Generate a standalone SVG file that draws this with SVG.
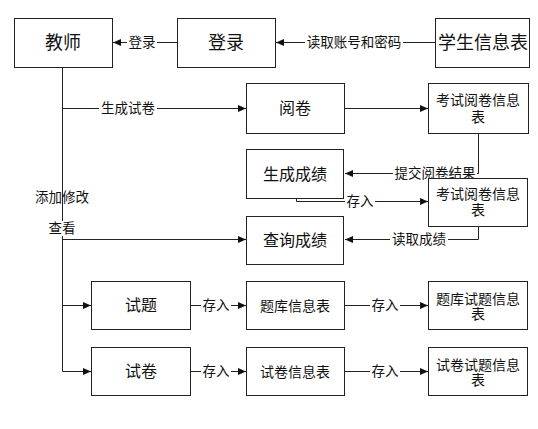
<svg xmlns="http://www.w3.org/2000/svg" width="538" height="429" viewBox="0 0 538 429">
<defs>
<marker id="arr" markerUnits="userSpaceOnUse" markerWidth="9" markerHeight="8" refX="8" refY="3.5" orient="auto">
<path d="M0,0 L8,3.5 L0,7 z" fill="#111"/>
</marker>
<style>
.box{fill:#fff;stroke:#222;stroke-width:1}
.t{font-family:"Liberation Sans","Noto Sans CJK SC",sans-serif;fill:#111;text-anchor:middle;dominant-baseline:central}
.big{font-size:18px}
.mid{font-size:16px}
.sm{font-size:14px}
.lbl{font-family:"Liberation Sans","Noto Sans CJK SC",sans-serif;fill:#111;text-anchor:middle;dominant-baseline:central;font-size:13.5px}
.ln{fill:none;stroke:#222;stroke-width:1}
.a{marker-end:url(#arr)}
.bg{fill:#fff}
</style>
</defs>
<rect width="538" height="429" fill="#fff"/>
<g id="connectors">
<line class="ln a" x1="435" y1="42.5" x2="276" y2="42.5"/>
<line class="ln a" x1="177" y1="42.5" x2="113" y2="42.5"/>
<line class="ln" x1="62.5" y1="67" x2="62.5" y2="371.5"/>
<line class="ln a" x1="62.5" y1="108.5" x2="246" y2="108.5"/>
<line class="ln a" x1="344" y1="108.5" x2="428" y2="108.5"/>
<polyline class="ln a" points="478.5,133 478.5,173.5 345,173.5"/>
<polyline class="ln a" points="296.5,198 296.5,201.5 428,201.5"/>
<polyline class="ln a" points="478.5,226 478.5,239.5 345,239.5"/>
<line class="ln a" x1="62.5" y1="239.5" x2="246" y2="239.5"/>
<line class="ln a" x1="62.5" y1="305.5" x2="91" y2="305.5"/>
<line class="ln a" x1="62.5" y1="371.5" x2="91" y2="371.5"/>
<line class="ln a" x1="190" y1="305.5" x2="246" y2="305.5"/>
<line class="ln a" x1="344" y1="305.5" x2="428" y2="305.5"/>
<line class="ln a" x1="190" y1="371.5" x2="246" y2="371.5"/>
<line class="ln a" x1="344" y1="371.5" x2="428" y2="371.5"/>
<rect class="bg" x="305" y="35" width="98" height="15"/>
<text class="lbl" x="354" y="42.5">读取账号和密码</text>
<rect class="bg" x="127" y="35" width="30" height="15"/>
<text class="lbl" x="142" y="42.5">登录</text>
<rect class="bg" x="99" y="101" width="58" height="15"/>
<text class="lbl" x="128" y="108.5">生成试卷</text>
<rect class="bg" x="393" y="166" width="84" height="15"/>
<text class="lbl" x="435" y="173.5">提交阅卷结果</text>
<rect class="bg" x="345" y="194" width="30" height="15"/>
<text class="lbl" x="360" y="201.5">存入</text>
<rect class="bg" x="390" y="232" width="58" height="15"/>
<text class="lbl" x="419" y="239.5">读取成绩</text>
<text class="lbl" x="62" y="197">添加修改</text>
<rect class="bg" x="47" y="221" width="30" height="15"/>
<text class="lbl" x="62" y="228.5">查看</text>
<rect class="bg" x="201" y="298" width="30" height="15"/>
<text class="lbl" x="216" y="305.5">存入</text>
<rect class="bg" x="370" y="298" width="30" height="15"/>
<text class="lbl" x="385" y="305.5">存入</text>
<rect class="bg" x="201" y="364" width="30" height="15"/>
<text class="lbl" x="216" y="371.5">存入</text>
<rect class="bg" x="370" y="364" width="30" height="15"/>
<text class="lbl" x="385" y="371.5">存入</text>
</g>
<g id="teacher"><rect class="box" x="14.5" y="18.5" width="98" height="49"/><text class="t big" x="63" y="43">教师</text></g>
<g id="login"><rect class="box" x="177.5" y="18.5" width="98" height="49"/><text class="t big" x="226" y="43">登录</text></g>
<g id="student"><rect class="box" x="435.5" y="18.5" width="94" height="49"/><text class="t big" x="483" y="43">学生信息表</text></g>
<g id="grade-paper"><rect class="box" x="246.5" y="83.5" width="98" height="50"/><text class="t mid" x="295" y="108.5">阅卷</text></g>
<g id="exam-info-1"><rect class="box" x="428.5" y="83.5" width="100" height="50"/><text class="t sm" x="478" y="100">考试阅卷信息</text><text class="t sm" x="478" y="117">表</text></g>
<g id="gen-score"><rect class="box" x="246.5" y="149.5" width="97" height="49"/><text class="t mid" x="295" y="174">生成成绩</text></g>
<g id="exam-info-2"><rect class="box" x="428.5" y="178.5" width="99" height="48"/><text class="t sm" x="478" y="194">考试阅卷信息</text><text class="t sm" x="478" y="210">表</text></g>
<g id="query-score"><rect class="box" x="246.5" y="216.5" width="97" height="48"/><text class="t mid" x="295" y="240.5">查询成绩</text></g>
<g id="question"><rect class="box" x="91.5" y="281.5" width="99" height="48"/><text class="t mid" x="141" y="305.5">试题</text></g>
<g id="bank-info"><rect class="box" x="246.5" y="281.5" width="98" height="48"/><text class="t sm" x="295" y="305.5">题库信息表</text></g>
<g id="bank-question-info"><rect class="box" x="428.5" y="281.5" width="99" height="48"/><text class="t sm" x="478" y="298.5">题库试题信息</text><text class="t sm" x="478" y="314">表</text></g>
<g id="paper"><rect class="box" x="91.5" y="347.5" width="99" height="48"/><text class="t mid" x="141" y="371.5">试卷</text></g>
<g id="paper-info"><rect class="box" x="246.5" y="347.5" width="98" height="48"/><text class="t sm" x="295" y="371.5">试卷信息表</text></g>
<g id="paper-question-info"><rect class="box" x="428.5" y="347.5" width="99" height="48"/><text class="t sm" x="478" y="364.5">试卷试题信息</text><text class="t sm" x="478" y="380">表</text></g>
</svg>
